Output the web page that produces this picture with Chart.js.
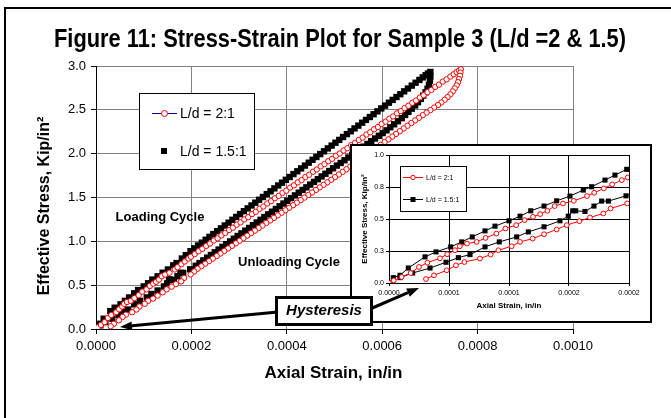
<!DOCTYPE html>
<html>
<head>
<meta charset="utf-8">
<script src="https://cdn.jsdelivr.net/npm/chart.js@4.4.1/dist/chart.umd.min.js"></script>
<style>
  html, body { margin: 0; padding: 0; background: #fff; overflow: hidden; }
  #wrap { position: relative; width: 671px; height: 418px; overflow: hidden; background: #fff; }
  #frame { position: absolute; left: 4px; top: 7px; width: 720px; height: 460px; border: 2px solid #000; }
  #main { position: absolute; left: 0; top: 0; }
  #insetBox { position: absolute; left: 350px; top: 144px; width: 298px; height: 175px; border: 2px solid #000; background: #fff; }
  #inset { position: absolute; left: 0; top: 0; }
  #overlay { position: absolute; left: 0; top: 0; }
</style>
</head>
<body>
<div id="wrap">
  <div id="frame"></div>
  <canvas id="main" width="671" height="418"></canvas>
  <div id="insetBox"><canvas id="inset" width="298" height="175"></canvas></div>
  <canvas id="overlay" width="671" height="418"></canvas>
</div>
<script>
// series labels
const seriesLabels = ['L/d = 2:1', 'L/d = 1.5:1'];

// tick labels
const mainXTicks = ['0.0000', '0.0002', '0.0004', '0.0006', '0.0008', '0.0010'];
const mainYTicks = ['0.0', '0.5', '1.0', '1.5', '2.0', '2.5', '3.0'];
const insetXTicks = ['0.0000', '0.0001', '0.0001', '0.0002', '0.0002'];
const insetYTicks = ['0.0', '0.3', '0.5', '0.8', '1.0'];

// L/d = 2:1  [axial strain in/in, effective stress kip/in2]
const redLoading = [
  [0.0000000, 0.000], [0.0000040, 0.020], [0.0000105, 0.047], [0.0000180, 0.078], [0.0000250, 0.125],
  [0.0000320, 0.159], [0.0000425, 0.193], [0.0000485, 0.225], [0.0000550, 0.256], [0.0000590, 0.287],
  [0.0000650, 0.308], [0.0000730, 0.321], [0.0000805, 0.352], [0.0000895, 0.386], [0.0000970, 0.426],
  [0.0001060, 0.452], [0.0001130, 0.491], [0.0001200, 0.517], [0.0001260, 0.538], [0.0001320, 0.564],
  [0.0001380, 0.601], [0.0001450, 0.621], [0.0001540, 0.642], [0.0001650, 0.679], [0.0001710, 0.705],
  [0.0001790, 0.739], [0.0001860, 0.770], [0.0001940, 0.804], [0.0001990, 0.825],
  [0.000207, 0.855], [0.000215, 0.887], [0.000223, 0.914], [0.000231, 0.948], [0.000239, 0.975],
  [0.000247, 1.009], [0.000255, 1.034], [0.000263, 1.068], [0.000271, 1.095], [0.000279, 1.129],
  [0.000287, 1.156], [0.000295, 1.190], [0.000303, 1.216], [0.000311, 1.250], [0.000319, 1.276],
  [0.000327, 1.311], [0.000335, 1.337], [0.000343, 1.371], [0.000351, 1.397], [0.000359, 1.432],
  [0.000367, 1.458], [0.000375, 1.492], [0.000383, 1.518], [0.000391, 1.553], [0.000399, 1.578],
  [0.000407, 1.613], [0.000415, 1.639], [0.000423, 1.673], [0.000431, 1.699], [0.000439, 1.734],
  [0.000447, 1.760], [0.000455, 1.794], [0.000463, 1.820], [0.000471, 1.855], [0.000479, 1.881],
  [0.000487, 1.915], [0.000495, 1.941], [0.000503, 1.976], [0.000511, 2.002], [0.000519, 2.036],
  [0.000527, 2.062], [0.000535, 2.097], [0.000543, 2.123], [0.000551, 2.157], [0.000559, 2.183],
  [0.000567, 2.218], [0.000575, 2.244], [0.000583, 2.278], [0.000591, 2.304], [0.000599, 2.339],
  [0.000607, 2.365], [0.000615, 2.399], [0.000623, 2.425], [0.000631, 2.460], [0.000639, 2.486],
  [0.000647, 2.520], [0.000655, 2.546], [0.000663, 2.580], [0.000671, 2.606], [0.000679, 2.641],
  [0.000687, 2.667], [0.000695, 2.701], [0.000703, 2.727], [0.000711, 2.761], [0.000719, 2.787],
  [0.000727, 2.822], [0.000735, 2.848], [0.000743, 2.880], [0.000750, 2.906], [0.000756, 2.930],
  [0.000761, 2.948], [0.000765, 2.962]
];
const redUnloading = [
  [0.000764, 2.925], [0.000763, 2.888], [0.000761, 2.851], [0.000759, 2.815], [0.000756, 2.779],
  [0.000752, 2.744], [0.000748, 2.710], [0.000743, 2.677], [0.000737, 2.645], [0.000731, 2.614],
  [0.000724, 2.584], [0.000717, 2.555], [0.000709, 2.526], [0.000701, 2.497], [0.000693, 2.468],
  [0.000685, 2.439], [0.000677, 2.409], [0.000669, 2.379], [0.000661, 2.349], [0.000653, 2.318],
  [0.000645, 2.287], [0.000637, 2.256], [0.000629, 2.225], [0.000621, 2.194], [0.000613, 2.163],
  [0.000605, 2.132], [0.000597, 2.101], [0.000589, 2.070], [0.000581, 2.039], [0.000573, 2.008],
  [0.000565, 1.977], [0.000557, 1.946], [0.000549, 1.915], [0.000541, 1.884], [0.000533, 1.853],
  [0.000525, 1.822], [0.000517, 1.792], [0.000509, 1.762], [0.000501, 1.732], [0.000493, 1.702],
  [0.000485, 1.673], [0.000477, 1.644], [0.000469, 1.615], [0.000461, 1.586], [0.000453, 1.557],
  [0.000445, 1.528], [0.000437, 1.499], [0.000429, 1.470], [0.000421, 1.441], [0.000413, 1.412],
  [0.000405, 1.383], [0.000397, 1.354], [0.000389, 1.325], [0.000381, 1.296], [0.000373, 1.267],
  [0.000365, 1.238], [0.000357, 1.209], [0.000349, 1.180], [0.000341, 1.151], [0.000333, 1.122],
  [0.000325, 1.093], [0.000317, 1.064], [0.000309, 1.035], [0.000301, 1.006], [0.000293, 0.977],
  [0.000285, 0.948], [0.000277, 0.919], [0.000269, 0.890], [0.000261, 0.861], [0.000253, 0.832],
  [0.000245, 0.803], [0.000237, 0.774], [0.000229, 0.745], [0.000221, 0.716], [0.000213, 0.687],
  [0.000206, 0.656],
  [0.0001985, 0.622], [0.0001847, 0.582], [0.0001786, 0.543], [0.0001675, 0.512], [0.0001586, 0.483],
  [0.0001481, 0.452], [0.0001397, 0.418], [0.0001292, 0.381], [0.0001197, 0.347], [0.0001092, 0.321],
  [0.0001022, 0.287], [0.0000911, 0.256], [0.0000847, 0.222], [0.0000758, 0.191], [0.0000628, 0.164],
  [0.0000558, 0.138], [0.0000481, 0.099], [0.0000375, 0.060], [0.0000308, 0.031]
];

// L/d = 1.5:1
const blackLoading = [
  [0.0000000, 0.000], [0.0000036, 0.042], [0.0000092, 0.060], [0.0000161, 0.117], [0.0000300, 0.204],
  [0.0000392, 0.243], [0.0000514, 0.282], [0.0000606, 0.321], [0.0000694, 0.360], [0.0000800, 0.407],
  [0.0000883, 0.444], [0.0001000, 0.486], [0.0001092, 0.522], [0.0001181, 0.564], [0.0001292, 0.601],
  [0.0001397, 0.642], [0.0001508, 0.679], [0.0001619, 0.726], [0.0001689, 0.752], [0.0001800, 0.804],
  [0.0001883, 0.843], [0.0001981, 0.888],
  [0.000206, 0.920], [0.000214, 0.953], [0.000222, 0.985], [0.000230, 1.018], [0.000238, 1.051],
  [0.000246, 1.083], [0.000254, 1.116], [0.000262, 1.148], [0.000270, 1.181], [0.000278, 1.213],
  [0.000286, 1.246], [0.000294, 1.278], [0.000302, 1.311], [0.000310, 1.344], [0.000318, 1.376],
  [0.000326, 1.409], [0.000334, 1.441], [0.000342, 1.474], [0.000350, 1.506], [0.000358, 1.539],
  [0.000366, 1.571], [0.000374, 1.604], [0.000382, 1.637], [0.000390, 1.669], [0.000398, 1.702],
  [0.000406, 1.734], [0.000414, 1.767], [0.000422, 1.799], [0.000430, 1.832], [0.000438, 1.864],
  [0.000446, 1.897], [0.000454, 1.930], [0.000462, 1.962], [0.000470, 1.995], [0.000478, 2.027],
  [0.000486, 2.060], [0.000494, 2.092], [0.000502, 2.125], [0.000510, 2.157], [0.000518, 2.190],
  [0.000526, 2.223], [0.000534, 2.255], [0.000542, 2.288], [0.000550, 2.320], [0.000558, 2.353],
  [0.000566, 2.385], [0.000574, 2.418], [0.000582, 2.450], [0.000590, 2.483], [0.000598, 2.516],
  [0.000606, 2.548], [0.000614, 2.581], [0.000622, 2.613], [0.000630, 2.646], [0.000638, 2.678],
  [0.000646, 2.711], [0.000654, 2.743], [0.000662, 2.776], [0.000670, 2.809], [0.000678, 2.841],
  [0.000685, 2.870], [0.000691, 2.894], [0.000696, 2.914], [0.000701, 2.932]
];
const blackUnloading = [
  [0.000701, 2.880], [0.000700, 2.832], [0.000698, 2.785], [0.000695, 2.740], [0.000691, 2.700],
  [0.000686, 2.662], [0.000681, 2.625], [0.000675, 2.587], [0.000669, 2.550], [0.000662, 2.513],
  [0.000655, 2.477], [0.000648, 2.441], [0.000641, 2.405], [0.000633, 2.370], [0.000625, 2.335],
  [0.000617, 2.301], [0.000609, 2.266], [0.000601, 2.235], [0.000593, 2.204], [0.000585, 2.173],
  [0.000577, 2.142], [0.000569, 2.111], [0.000561, 2.080], [0.000553, 2.049], [0.000545, 2.018],
  [0.000537, 1.987], [0.000529, 1.956], [0.000521, 1.925], [0.000513, 1.894], [0.000505, 1.864],
  [0.000497, 1.833], [0.000489, 1.802], [0.000481, 1.771], [0.000473, 1.740], [0.000465, 1.709],
  [0.000457, 1.678], [0.000449, 1.647], [0.000441, 1.616], [0.000433, 1.586], [0.000425, 1.555],
  [0.000417, 1.524], [0.000409, 1.493], [0.000401, 1.462], [0.000393, 1.431], [0.000385, 1.400],
  [0.000377, 1.369], [0.000369, 1.338], [0.000361, 1.308], [0.000353, 1.277], [0.000345, 1.246],
  [0.000337, 1.215], [0.000329, 1.184], [0.000321, 1.153], [0.000313, 1.122], [0.000305, 1.091],
  [0.000297, 1.061], [0.000289, 1.030], [0.000281, 0.999], [0.000273, 0.968], [0.000265, 0.937],
  [0.000257, 0.906], [0.000249, 0.875], [0.000241, 0.844], [0.000233, 0.814], [0.000225, 0.783],
  [0.000217, 0.752], [0.000209, 0.721],
  [0.0001975, 0.681], [0.0001828, 0.640], [0.0001772, 0.640], [0.0001708, 0.601], [0.0001633, 0.559],
  [0.0001556, 0.564], [0.0001531, 0.564], [0.0001494, 0.522], [0.0001425, 0.486], [0.0001292, 0.439],
  [0.0001161, 0.399], [0.0001064, 0.360], [0.0000919, 0.321], [0.0000800, 0.282], [0.0000675, 0.222],
  [0.0000578, 0.198], [0.0000475, 0.162], [0.0000342, 0.117], [0.0000197, 0.078], [0.0000092, 0.042]
];

const toXY = pts => pts.map(p => ({ x: p[0], y: p[1] }));
const redData = toXY(redLoading.concat(redUnloading));
const blackData = toXY(blackLoading.concat(blackUnloading));

Chart.defaults.font.family = "'Liberation Sans', Arial, sans-serif";
Chart.defaults.color = '#000';

// titles, legend and cycle labels of the big chart
const mainDecor = {
    id: 'mainDecor',
    afterDraw(chart) {
        const ctx = chart.ctx;
        const area = chart.chartArea;
        ctx.save();
        ctx.fillStyle = '#000';
        ctx.textAlign = 'center';
        ctx.textBaseline = 'middle';

        // narrow title: squeeze the bold face to the width it has in the figure
        const title = 'Figure 11: Stress-Strain Plot for Sample 3 (L/d =2 & 1.5)';
        ctx.font = "bold 25px 'Liberation Sans', Arial, sans-serif";
        const tw = ctx.measureText(title).width;
        ctx.save();
        ctx.translate(340, 40);
        ctx.scale(572 / tw, 1);
        ctx.fillText(title, 0, 0);
        ctx.restore();

        ctx.font = "bold 17px 'Liberation Sans', Arial, sans-serif";
        ctx.fillText('Axial Strain, in/in', (area.left + area.right) / 2 - 1, 373);

        ctx.save();
        ctx.translate(45, 206);
        ctx.rotate(-Math.PI / 2);
        ctx.font = "bold 16px 'Liberation Sans', Arial, sans-serif";
        ctx.fillText('Effective Stress, Kip/in²', 0, 0);
        ctx.restore();

        ctx.font = "bold 13px 'Liberation Sans', Arial, sans-serif";
        ctx.fillText('Loading Cycle', 160, 217);
        ctx.fillText('Unloading Cycle', 289, 262);

        // legend
        ctx.fillStyle = '#fff';
        ctx.fillRect(139.5, 93.5, 115, 76);
        ctx.strokeStyle = '#000';
        ctx.lineWidth = 1;
        ctx.strokeRect(139.5, 93.5, 115, 76);
        ctx.strokeStyle = '#000080';
        ctx.beginPath();
        ctx.moveTo(152, 113.5);
        ctx.lineTo(177, 113.5);
        ctx.stroke();
        ctx.fillStyle = '#fff';
        ctx.strokeStyle = '#ff0000';
        ctx.beginPath();
        ctx.arc(164.5, 113.5, 3, 0, Math.PI * 2);
        ctx.fill();
        ctx.stroke();
        ctx.fillStyle = '#000';
        ctx.fillRect(161, 148, 6, 6);
        ctx.font = "14px 'Liberation Sans', Arial, sans-serif";
        ctx.textAlign = 'left';
        ctx.fillText(seriesLabels[0], 180, 114);
        ctx.fillText(seriesLabels[1], 180, 152);
        ctx.restore();
    }
};

new Chart(document.getElementById('main'), {
    type: 'scatter',
    data: {
        datasets: [{
            label: seriesLabels[0],
            data: redData,
            showLine: false,
            pointStyle: 'circle',
            pointRadius: 2.7,
            pointBorderWidth: 1,
            pointBorderColor: '#ff0000',
            pointBackgroundColor: '#ffffff'
        }, {
            label: seriesLabels[1],
            data: blackData,
            showLine: false,
            pointStyle: 'rect',
            pointRadius: 4.5,
            pointBorderWidth: 0,
            pointBorderColor: '#000',
            pointBackgroundColor: '#000'
        }]
    },
    options: {
        responsive: false,
        animation: false,
        events: [],
        layout: { padding: { left: 0, top: 66, right: 98, bottom: 0 } },
        plugins: { legend: { display: false }, tooltip: { enabled: false } },
        scales: {
            x: {
                type: 'linear', min: 0, max: 0.001,
                ticks: { stepSize: 0.0002, autoSkip: false, maxRotation: 0, padding: 5,
                    font: { size: 13 }, callback: (v, i) => mainXTicks[i] ?? '' },
                grid: { color: '#808080', tickColor: '#000', tickLength: 5 },
                border: { color: '#000' },
                afterFit: s => { s.height = 89; }
            },
            y: {
                type: 'linear', min: 0, max: 3,
                ticks: { stepSize: 0.5, autoSkip: false, padding: 5,
                    font: { size: 13 }, callback: (v, i) => mainYTicks[i] ?? '' },
                grid: { color: '#808080', tickColor: '#000', tickLength: 5 },
                border: { color: '#000' },
                afterFit: s => { s.width = 96; }
            }
        }
    },
    plugins: [mainDecor]
});

// axis titles and legend of the inset
const insetDecor = {
    id: 'insetDecor',
    afterDraw(chart) {
        const ctx = chart.ctx;
        const area = chart.chartArea;
        ctx.save();
        ctx.fillStyle = '#000';
        ctx.textAlign = 'center';
        ctx.textBaseline = 'middle';
        ctx.font = "bold 8px 'Liberation Sans', Arial, sans-serif";
        ctx.fillText('Axial Strain, in/in', (area.left + area.right) / 2, 160);
        ctx.save();
        ctx.translate(13, (area.top + area.bottom) / 2);
        ctx.rotate(-Math.PI / 2);
        ctx.fillText('Effective Stress, Kip/in²', 0, 0);
        ctx.restore();

        ctx.fillStyle = '#fff';
        ctx.fillRect(48.5, 20.5, 66, 45);
        ctx.strokeStyle = '#000';
        ctx.lineWidth = 1;
        ctx.strokeRect(48.5, 20.5, 66, 45);

        ctx.strokeStyle = '#ff0000';
        ctx.beginPath();
        ctx.moveTo(51, 31.5);
        ctx.lineTo(71, 31.5);
        ctx.stroke();
        ctx.beginPath();
        ctx.arc(61, 31.5, 2.2, 0, Math.PI * 2);
        ctx.fillStyle = '#fff';
        ctx.fill();
        ctx.stroke();

        ctx.strokeStyle = '#000';
        ctx.beginPath();
        ctx.moveTo(51, 53.5);
        ctx.lineTo(71, 53.5);
        ctx.stroke();
        ctx.fillStyle = '#000';
        ctx.fillRect(58.5, 51, 5, 5);

        ctx.font = "7px 'Liberation Sans', Arial, sans-serif";
        ctx.textAlign = 'left';
        ctx.fillText(seriesLabels[0], 74, 32);
        ctx.fillText(seriesLabels[1], 74, 54);
        ctx.restore();
    }
};

new Chart(document.getElementById('inset'), {
    type: 'scatter',
    data: {
        datasets: [{
            label: seriesLabels[0],
            data: redData,
            showLine: true,
            borderColor: '#ff0000',
            borderWidth: 1,
            pointStyle: 'circle',
            pointRadius: 2.4,
            pointBorderWidth: 1,
            pointBorderColor: '#ff0000',
            pointBackgroundColor: '#ffffff'
        }, {
            label: seriesLabels[1],
            data: blackData,
            showLine: true,
            borderColor: '#000',
            borderWidth: 1,
            pointStyle: 'rect',
            pointRadius: 3.6,
            pointBorderWidth: 0,
            pointBorderColor: '#000',
            pointBackgroundColor: '#000'
        }]
    },
    options: {
        responsive: false,
        animation: false,
        events: [],
        layout: { padding: { left: 0, top: 9, right: 21, bottom: 0 } },
        plugins: { legend: { display: false }, tooltip: { enabled: false } },
        scales: {
            x: {
                type: 'linear', min: 0, max: 0.0002,
                ticks: { stepSize: 0.00005, autoSkip: false, maxRotation: 0, padding: 3,
                    font: { size: 7 }, callback: (v, i) => insetXTicks[i] ?? '' },
                grid: { color: '#000', tickColor: '#000', tickLength: 3 },
                border: { color: '#000' },
                afterFit: s => { s.height = 38; }
            },
            y: {
                type: 'linear', min: 0, max: 1,
                ticks: { stepSize: 0.25, autoSkip: false, padding: 2,
                    font: { size: 7 }, callback: (v, i) => insetYTicks[i] ?? '' },
                grid: { color: '#000', tickColor: '#000', tickLength: 3 },
                border: { color: '#000' },
                afterFit: s => { s.width = 37; }
            }
        }
    },
    plugins: [insetDecor]
});

// Hysteresis call-out sits above both charts
function drawArrow(ctx, x1, y1, x2, y2) {
    const ang = Math.atan2(y2 - y1, x2 - x1);
    const head = 12;
    const bx = x2 - head * Math.cos(ang);
    const by = y2 - head * Math.sin(ang);
    ctx.beginPath();
    ctx.moveTo(x1, y1);
    ctx.lineTo(bx, by);
    ctx.stroke();
    ctx.beginPath();
    ctx.moveTo(x2, y2);
    ctx.lineTo(bx + 4.5 * Math.sin(ang), by - 4.5 * Math.cos(ang));
    ctx.lineTo(bx - 4.5 * Math.sin(ang), by + 4.5 * Math.cos(ang));
    ctx.closePath();
    ctx.fill();
}

const octx = document.getElementById('overlay').getContext('2d');
octx.strokeStyle = '#000';
octx.fillStyle = '#000';
octx.lineWidth = 3;
drawArrow(octx, 278, 312, 120, 327);
drawArrow(octx, 370, 309, 419, 288);
octx.fillStyle = '#fff';
octx.fillRect(276.5, 297.5, 95, 27);
octx.lineWidth = 3;
octx.strokeRect(276.5, 297.5, 95, 27);
octx.fillStyle = '#000';
octx.font = "italic bold 15px 'Liberation Sans', Arial, sans-serif";
octx.textAlign = 'center';
octx.textBaseline = 'middle';
octx.fillText('Hysteresis', 324, 311);
</script>
</body>
</html>
